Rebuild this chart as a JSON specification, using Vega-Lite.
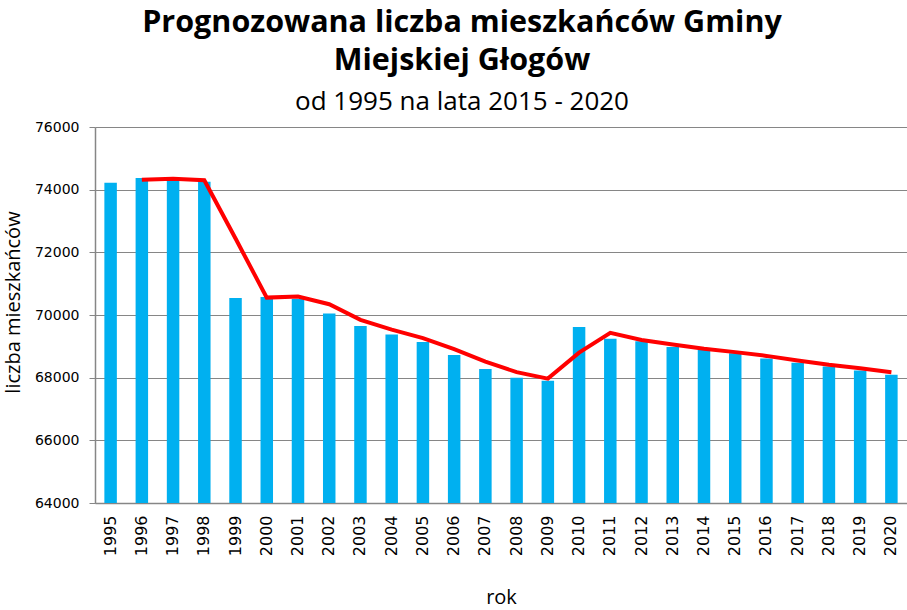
{
  "$schema": "https://vega.github.io/schema/vega-lite/v6.json",
  "width": 812,
  "height": 376,
  "autosize": {"type": "none"},
  "padding": {"left": 95, "top": 127, "right": 0, "bottom": 107},
  "background": "white",
  "title": {
    "text": ["Prognozowana liczba mieszkańców Gminy", "Miejskiej Głogów"],
    "subtitle": "od 1995 na lata 2015 - 2020",
    "anchor": "middle",
    "dx": -39,
    "font": "Open Sans",
    "fontSize": 30.5,
    "fontWeight": "bold",
    "lineHeight": 38,
    "color": "black",
    "subtitleFont": "Open Sans",
    "subtitleFontSize": 26,
    "subtitleColor": "black",
    "subtitlePadding": 13,
    "offset": 5
  },
  "data": {
    "values": [
      {"rok": "1995", "liczba": 74220, "prognoza": null},
      {"rok": "1996", "liczba": 74370, "prognoza": 74320},
      {"rok": "1997", "liczba": 74330, "prognoza": 74350},
      {"rok": "1998", "liczba": 74255, "prognoza": 74300},
      {"rok": "1999", "liczba": 70545, "prognoza": 72440},
      {"rok": "2000", "liczba": 70575, "prognoza": 70555},
      {"rok": "2001", "liczba": 70510, "prognoza": 70590},
      {"rok": "2002", "liczba": 70045, "prognoza": 70345},
      {"rok": "2003", "liczba": 69650, "prognoza": 69845},
      {"rok": "2004", "liczba": 69375, "prognoza": 69535},
      {"rok": "2005", "liczba": 69140, "prognoza": 69260},
      {"rok": "2006", "liczba": 68725, "prognoza": 68910},
      {"rok": "2007", "liczba": 68280, "prognoza": 68515},
      {"rok": "2008", "liczba": 67995, "prognoza": 68175},
      {"rok": "2009", "liczba": 67900, "prognoza": 67970},
      {"rok": "2010", "liczba": 69620, "prognoza": 68800},
      {"rok": "2011", "liczba": 69240, "prognoza": 69430},
      {"rok": "2012", "liczba": 69165, "prognoza": 69205},
      {"rok": "2013", "liczba": 68980, "prognoza": 69060},
      {"rok": "2014", "liczba": 68885, "prognoza": 68920},
      {"rok": "2015", "liczba": 68780, "prognoza": 68815},
      {"rok": "2016", "liczba": 68610, "prognoza": 68695},
      {"rok": "2017", "liczba": 68480, "prognoza": 68545},
      {"rok": "2018", "liczba": 68355, "prognoza": 68410},
      {"rok": "2019", "liczba": 68225, "prognoza": 68300},
      {"rok": "2020", "liczba": 68090, "prognoza": 68175}
    ]
  },
  "encoding": {
    "x": {
      "field": "rok",
      "type": "ordinal",
      "scale": {"paddingInner": 0.6, "paddingOuter": 0.3},
      "axis": {
        "title": "rok",
        "labelAngle": -90,
        "labelAlign": "right",
        "labelBaseline": "middle",
        "labelFont": "DejaVu Sans",
        "labelFontSize": 16,
        "labelColor": "black",
        "labelPadding": 12,
        "ticks": false,
        "domainColor": "#868686",
        "domainWidth": 1.5,
        "titleFont": "Open Sans",
        "titleFontSize": 20,
        "titleFontWeight": "normal",
        "titleColor": "black",
        "titlePadding": 32
      }
    }
  },
  "layer": [
    {
      "mark": {"type": "bar", "color": "#00B0F0", "clip": true},
      "encoding": {
        "y": {
          "field": "liczba",
          "type": "quantitative",
          "scale": {"domain": [64000, 76000], "zero": false, "nice": false},
          "axis": {
            "title": "liczba mieszkańców",
            "titleY": 175,
            "values": [64000, 66000, 68000, 70000, 72000, 74000, 76000],
            "format": "d",
            "labelFont": "DejaVu Sans",
            "labelFontSize": 14,
            "labelColor": "black",
            "labelPadding": 10,
            "tickSize": 6,
            "tickColor": "#868686",
            "domainColor": "#868686",
            "domainWidth": 1.5,
            "gridColor": "#868686",
            "gridWidth": 1,
            "titleFont": "Open Sans",
            "titleFontSize": 20,
            "titleFontWeight": "normal",
            "titleColor": "black",
            "titlePadding": 11
          }
        }
      }
    },
    {
      "transform": [{"filter": "datum.prognoza != null"}],
      "mark": {"type": "line", "color": "#FF0000", "strokeWidth": 4},
      "encoding": {
        "y": {"field": "prognoza", "type": "quantitative"}
      }
    }
  ],
  "config": {
    "view": {"stroke": null}
  }
}
